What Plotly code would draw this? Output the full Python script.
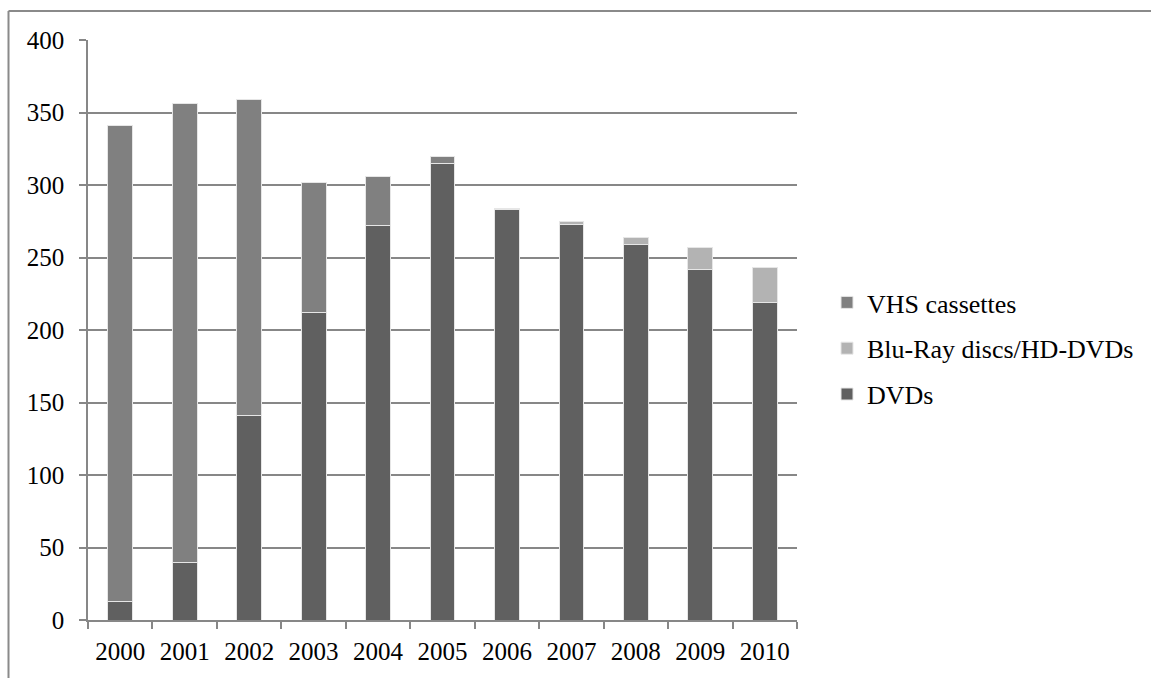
import plotly.graph_objects as go

# Annual unit sales by format
years = ["2000", "2001", "2002", "2003", "2004", "2005", "2006", "2007", "2008", "2009", "2010"]
dvds = [13, 40, 141, 212, 272, 315, 283, 273, 259, 242, 219]
bluray_hddvd = [0, 0, 0, 0, 0, 0, 0.5, 1.5, 5, 15, 24]
vhs = [328, 316, 218, 90, 34, 5, 0.5, 0, 0, 0, 0]

y_ticks = [0, 50, 100, 150, 200, 250, 300, 350, 400]

W, H = 1151, 678
L, R, T, B = 88, 354, 40, 58
plot_w = W - L - R
plot_h = H - T - B

FONT = "Times New Roman"
GRID = "#878787"

fig = go.Figure()
# stacked bottom to top; legend lists them top to bottom
series = [
    ("DVDs", dvds, "#606060", 3),
    ("Blu-Ray discs/HD-DVDs", bluray_hddvd, "#b3b3b3", 2),
    ("VHS cassettes", vhs, "#808080", 1),
]
for name, vals, color, rank in series:
    fig.add_trace(go.Bar(
        x=years, y=vals, name=name, legendgroup=name, legendrank=rank,
        marker=dict(color=color, line=dict(color="#e6e6e6", width=1)),
    ))

# chart frame (top and left edges)
def px_x(p):
    return (p - L) / plot_w

def px_y(p):
    return (H - B - p) / plot_h

frame = dict(color="#8a8a8a", width=2)
fig.add_shape(type="line", xref="paper", yref="paper",
              x0=px_x(8.5), x1=px_x(W + 5), y0=px_y(11), y1=px_y(11), line=frame)
fig.add_shape(type="line", xref="paper", yref="paper",
              x0=px_x(8.5), x1=px_x(8.5), y0=px_y(11), y1=px_y(H + 5), line=frame)

fig.update_layout(
    width=W, height=H,
    margin=dict(l=L, r=R, t=T, b=B, autoexpand=False),
    paper_bgcolor="white", plot_bgcolor="white",
    barmode="stack", bargap=0.615,
    font=dict(family=FONT, size=25, color="black"),
    legend=dict(
        x=px_x(827), xanchor="left", y=px_y(279), yanchor="top",
        traceorder="grouped", tracegroupgap=9,
        font=dict(family=FONT, size=26, color="black"),
        bgcolor="rgba(0,0,0,0)",
    ),
    xaxis=dict(
        type="category", showline=True, linecolor=GRID, linewidth=1.5,
        ticks="outside", tickson="boundaries", ticklen=7, tickcolor=GRID, tickwidth=1.5,
        showgrid=False, fixedrange=True, ticklabelstandoff=8,
        tickfont=dict(family=FONT, size=25, color="black"),
    ),
    yaxis=dict(
        range=[0, 400], tickvals=y_ticks, showline=True, linecolor=GRID, linewidth=1.5,
        ticks="outside", ticklen=7, tickcolor=GRID, tickwidth=1.5,
        showgrid=True, gridcolor=GRID, gridwidth=1.5, zeroline=False,
        ticklabelstandoff=10, fixedrange=True,
        tickfont=dict(family=FONT, size=25, color="black"),
    ),
)

fig.write_html("out.html")
